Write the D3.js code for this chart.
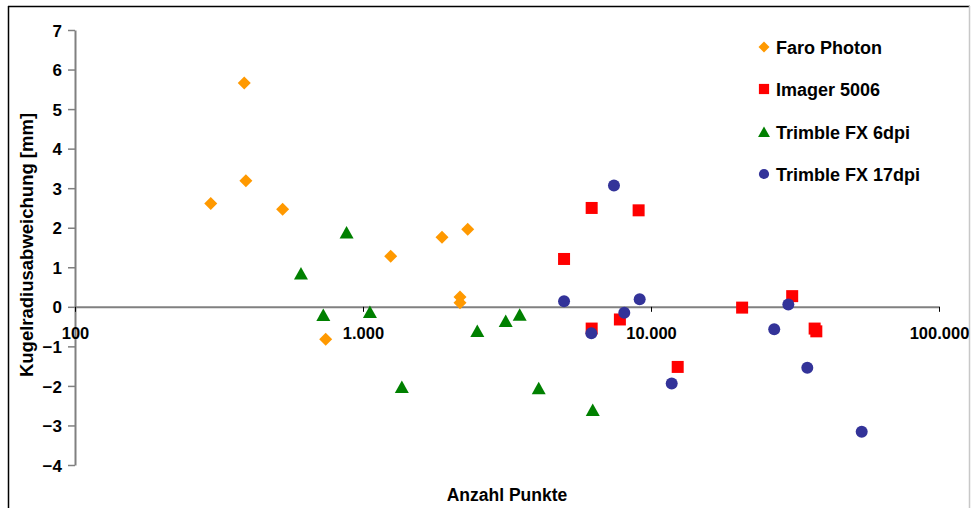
<!DOCTYPE html>
<html>
<head>
<meta charset="utf-8">
<script src="https://cdn.jsdelivr.net/npm/d3@7/dist/d3.min.js"></script>
<style>
  html, body { margin: 0; padding: 0; background: #fff; }
  svg text { font-family: "Liberation Sans", Arial, sans-serif; font-weight: bold; fill: #000; }
</style>
</head>
<body>
<svg id="chart" width="971" height="508"></svg>
<script>
// ---- data ----
const seriesNames = ["Faro Photon", "Imager 5006", "Trimble FX 6dpi", "Trimble FX 17dpi"];
const faroX = [296, 387, 392, 526, 1248, 1881, 2310, 2172, 2172, 742];
const faroY = [2.61, 5.66, 3.19, 2.47, 1.28, 1.76, 1.96, 0.25, 0.10, -0.82];
const imagerX = [6223, 9058, 4990, 7798, 6223, 12380, 20720, 30920, 37000, 37500];
const imagerY = [2.50, 2.44, 1.21, -0.32, -0.55, -1.52, -0.02, 0.27, -0.55, -0.62];
const trimble6X = [877, 609, 728, 1057, 1364, 2494, 3130, 3500, 4075, 6276];
const trimble6Y = [1.88, 0.84, -0.21, -0.13, -2.03, -0.61, -0.36, -0.20, -2.06, -2.61];
const trimble17X = [7437, 4990, 9135, 8077, 6208, 11800, 29980, 26780, 34890, 53900];
const trimble17Y = [3.07, 0.14, 0.19, -0.15, -0.67, -1.94, 0.06, -0.57, -1.54, -3.16];
const xTicks = [100, 1000, 10000, 100000];
const yTicks = [-4, -3, -2, -1, 0, 1, 2, 3, 4, 5, 6, 7];
const xTitle = "Anzahl Punkte";
const yTitle = "Kugelradiusabweichung [mm]";

// ---- setup ----
const svg = d3.select("#chart");
const x = d3.scaleLog().domain([100, 100000]).range([75, 939]);
const y = d3.scaleLinear().domain([-4, 7]).range([465, 30]);
const de = d3.formatLocale({decimal: ",", thousands: ".", grouping: [3], currency: ["", " €"]});
const fmt = de.format(",");

const colors = ["#FF9900", "#FF0000", "#008000", "#333399"];
const shapes = ["diamond", "square", "triangle", "circle"];
const series = [
  {xs: faroX, ys: faroY},
  {xs: imagerX, ys: imagerY},
  {xs: trimble6X, ys: trimble6Y},
  {xs: trimble17X, ys: trimble17Y}
];

function markerPath(shape) {
  const s = 6;
  if (shape === "diamond") return `M0,${-s-0.5}L${s+0.5},0L0,${s+0.5}L${-s-0.5},0Z`;
  if (shape === "square") return `M${-s},${-s}h${2*s}v${2*s}h${-2*s}Z`;
  if (shape === "triangle") return `M0,${-s-0.5}L${s+1},${s}L${-s-1},${s}Z`;
  return d3.arc()({innerRadius: 0, outerRadius: s, startAngle: 0, endAngle: 2 * Math.PI});
}

// border
svg.append("line").attr("x1", 8).attr("x2", 970).attr("y1", 6.5).attr("y2", 6.5).attr("stroke", "#000").attr("stroke-width", 1.5);
svg.append("line").attr("x1", 8.5).attr("x2", 8.5).attr("y1", 6).attr("y2", 508).attr("stroke", "#000").attr("stroke-width", 1.5);
svg.append("line").attr("x1", 969.5).attr("x2", 969.5).attr("y1", 6).attr("y2", 508).attr("stroke", "#c8c8c8").attr("stroke-width", 1.5);

// y axis
const yAxis = svg.append("g").attr("transform", "translate(75,0)")
  .call(d3.axisLeft(y).tickValues(yTicks).tickSize(7).tickSizeOuter(0).tickPadding(6).tickFormat(d3.format("d")));
yAxis.select(".domain").attr("stroke", "#808080").attr("stroke-width", 2);
yAxis.selectAll(".tick line").attr("stroke", "#808080").attr("stroke-width", 1.5);
yAxis.selectAll(".tick text").attr("font-size", 17).attr("font-family", null).style("font-family", "'Liberation Sans', Arial, sans-serif").attr("fill", "#000").attr("dy", "0.36em");

// x axis at y=0
const xAxis = svg.append("g").attr("transform", `translate(0,${y(0)})`)
  .call(d3.axisBottom(x).tickValues(xTicks).tickSize(5).tickSizeOuter(0).tickFormat(fmt));
xAxis.select(".domain").attr("stroke", "#808080").attr("stroke-width", 2);
xAxis.selectAll(".tick line").attr("stroke", "#000").attr("stroke-width", 1);
xAxis.selectAll(".tick text").attr("font-size", 16.5).attr("font-family", null).style("font-family", "'Liberation Sans', Arial, sans-serif").attr("fill", "#000").attr("y", 32).attr("dy", 0);

// marks
series.forEach((s, i) => {
  svg.append("g").selectAll("path").data(s.xs.map((v, j) => [v, s.ys[j]])).join("path")
    .attr("d", markerPath(shapes[i]))
    .attr("transform", d => `translate(${x(d[0])},${y(d[1])})`)
    .attr("fill", colors[i]);
});

// titles
svg.append("text").attr("x", 507).attr("y", 501).attr("text-anchor", "middle").attr("font-size", 17.5).text(xTitle);
svg.append("text").attr("transform", "translate(33,245) rotate(-90)").attr("text-anchor", "middle").attr("font-size", 18.5).text(yTitle);

// legend
const legY = [47, 89, 132, 174];
seriesNames.forEach((n, i) => {
  svg.append("path").attr("d", markerPath(shapes[i])).attr("transform", `translate(764,${legY[i]}) scale(0.85)`).attr("fill", colors[i]);
  svg.append("text").attr("x", 776).attr("y", legY[i] + 6.5).attr("font-size", 18).text(n);
});
</script>
</body>
</html>
